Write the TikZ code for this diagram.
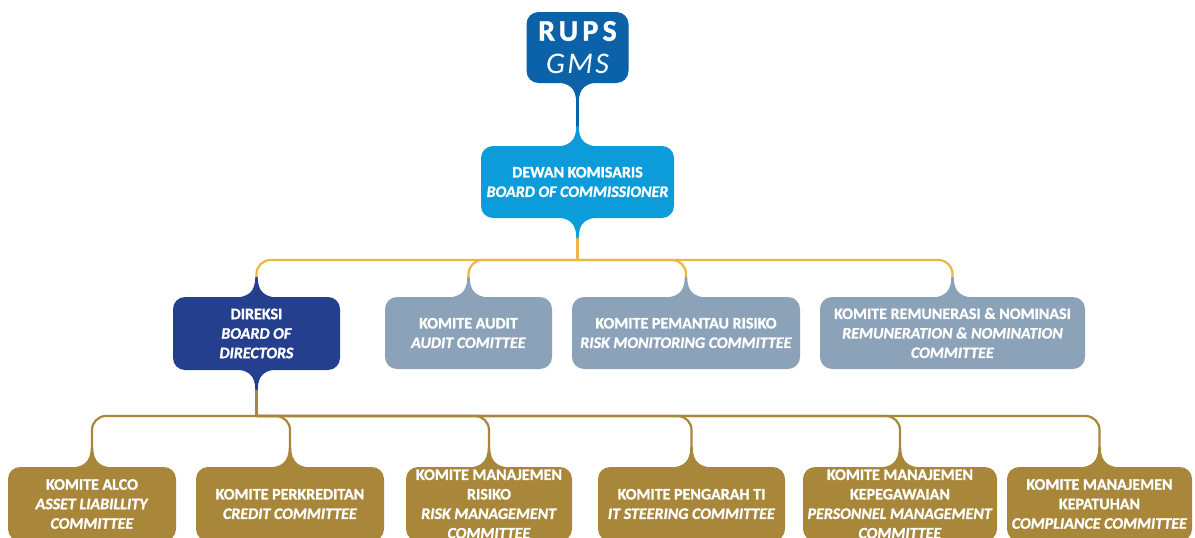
\documentclass[tikz,border=0pt]{standalone}
\usepackage{fontspec}
\setmainfont{Carlito}[BoldFeatures={FakeBold=1.2},BoldItalicFeatures={FakeBold=1.2}]
\definecolor{rupsblue}{HTML}{0B62A8}
\definecolor{dewanblue}{HTML}{0C9CD9}
\definecolor{navy}{HTML}{243F8E}
\definecolor{slate}{HTML}{8BA2B8}
\definecolor{ochre}{HTML}{A8873A}
\definecolor{lightgold}{HTML}{EAB741}
% flare joining a box to its connector
\newcommand{\tailup}[2]{%
  \fill[#2,shift={(#1.north)}] (-25,1) .. controls (-8,1) and (-1.2,-5) .. (-1.2,-20)
    -- (1.2,-20) .. controls (1.2,-5) and (8,1) .. (25,1) -- cycle;}
\newcommand{\taildown}[2]{%
  \fill[#2,shift={(#1.south)}] (-25,-1) .. controls (-8,-1) and (-1.2,5) .. (-1.2,20)
    -- (1.2,20) .. controls (1.2,5) and (8,-1) .. (25,-1) -- cycle;}
\begin{document}
\begin{tikzpicture}[x=1pt,y=-1pt,
    orgbox/.style={rounded corners=12pt,text=white,align=center,inner sep=0pt,
      font=\bfseries\fontsize{16}{19.5}\selectfont},
    goldline/.style={lightgold,line width=2.2pt},
    ochreline/.style={ochre,line width=2.2pt}]
  \useasboundingbox (0,0) rectangle (1195,538);%
  \clip (0,0) rectangle (1195,538);%

  \node[orgbox,fill=rupsblue,minimum width=102pt,minimum height=71pt,
    font=\bfseries\fontsize{30}{33}\selectfont] (rups) at (577.5,47.5)
    {\addfontfeature{LetterSpace=14}RUPS\\ \mdseries\itshape\addfontfeature{LetterSpace=8}GMS};%
  \node[orgbox,fill=dewanblue,minimum width=193pt,minimum height=72pt] (dewan) at (577.5,182)
    {DEWAN KOMISARIS\\ \textit{BOARD OF COMMISSIONER}};%

  \node[orgbox,fill=navy,minimum width=167pt,minimum height=73pt] (direksi) at (256.5,333.5)
    {DIREKSI\\ \textit{BOARD OF}\\ \textit{DIRECTORS}};%
  \node[orgbox,fill=slate,minimum width=167pt,minimum height=72pt] (audit) at (468.5,333)
    {KOMITE AUDIT\\ \textit{AUDIT COMITTEE}};%
  \node[orgbox,fill=slate,minimum width=228pt,minimum height=72pt] (pemantau) at (686,333)
    {KOMITE PEMANTAU RISIKO\\ \textit{RISK MONITORING COMMITTEE}};%
  \node[orgbox,fill=slate,minimum width=265pt,minimum height=72pt] (remun) at (952.5,333)
    {KOMITE REMUNERASI \& NOMINASI\\ \textit{REMUNERATION \& NOMINATION}\\ \textit{COMMITTEE}};%

  \node[orgbox,fill=ochre,minimum width=168pt,minimum height=74pt] (alco) at (92,504)
    {KOMITE ALCO\\ \textit{ASSET LIABILLITY}\\ \textit{COMMITTEE}};%
  \node[orgbox,fill=ochre,minimum width=188pt,minimum height=74pt] (kredit) at (290,504)
    {KOMITE PERKREDITAN\\ \textit{CREDIT COMMITTEE}};%
  \node[orgbox,fill=ochre,minimum width=166pt,minimum height=74pt] (risiko) at (489,504)
    {KOMITE MANAJEMEN\\ RISIKO\\ \textit{RISK MANAGEMENT}\\ \textit{COMMITTEE}};%
  \node[orgbox,fill=ochre,minimum width=187pt,minimum height=74pt] (ti) at (691.5,504)
    {KOMITE PENGARAH TI\\ \textit{IT STEERING COMMITTEE}};%
  \node[orgbox,fill=ochre,minimum width=194pt,minimum height=74pt] (pegawai) at (900,504)
    {KOMITE MANAJEMEN\\ KEPEGAWAIAN\\ \textit{PERSONNEL MANAGEMENT}\\ \textit{COMMITTEE}};%
  \node[orgbox,fill=ochre,minimum width=185pt,minimum height=74pt] (patuh) at (1099.5,504)
    {KOMITE MANAJEMEN\\ KEPATUHAN\\ \textit{COMPLIANCE COMMITTEE}};%

  % branching points
  \coordinate (busA) at (577.5,260);%
  \coordinate (busB) at (256.5,416);%

  \draw[rupsblue,line width=2.2pt] (rups.south) -- (dewan.north);%
  \draw[goldline] (dewan.south) -- (busA);%
  \foreach \n in {direksi,audit,pemantau,remun}
    \draw[goldline,rounded corners=14pt] (busA) -| (\n.north);%
  \draw[ochreline] (direksi.south) -- (busB);%
  \foreach \n in {alco,kredit,risiko,ti,pegawai,patuh}
    \draw[ochreline,rounded corners=14pt] (busB) -| (\n.north);%

  \taildown{rups}{rupsblue}%
  \tailup{dewan}{dewanblue}%
  \taildown{dewan}{dewanblue}%
  \tailup{direksi}{navy}%
  \taildown{direksi}{navy}%
  \foreach \n in {audit,pemantau,remun} {\tailup{\n}{slate}}%
  \foreach \n in {alco,kredit,risiko,ti,pegawai,patuh} {\tailup{\n}{ochre}}%
\end{tikzpicture}
\end{document}
